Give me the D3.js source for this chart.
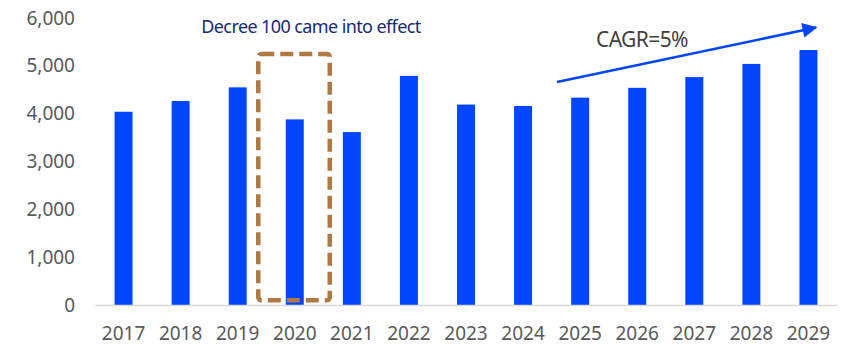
<!DOCTYPE html>
<html>
<head>
<meta charset="utf-8">
<script src="https://cdn.jsdelivr.net/npm/d3@7/dist/d3.min.js"></script>
<style>
  html, body { margin: 0; padding: 0; background: #fff; }
  svg { display: block; font-family: "Noto Sans", "Open Sans", sans-serif; }
</style>
</head>
<body>
<svg id="chart" width="851" height="348"></svg>
<script>
// Annual values, 2017–2029
const years = ["2017","2018","2019","2020","2021","2022","2023","2024","2025","2026","2027","2028","2029"];
const values = [4040, 4265, 4550, 3880, 3615, 4790, 4190, 4160, 4335, 4540, 4765, 5040, 5330];
const yTicks = [0, 1000, 2000, 3000, 4000, 5000, 6000];

const noteText = "Decree 100 came into effect";
const noteYear = "2020";
const cagrText = "CAGR=5%";

const svg = d3.select("#chart");
const blue = "#0046ff";

const x = d3.scaleBand().domain(years).range([95, 837]).paddingInner(0.685).paddingOuter(0.3425);
const y = d3.scaleLinear().domain([0, 6000]).range([305, 18]);

// y-axis labels (no line, no ticks)
const yAxis = svg.append("g").attr("transform", "translate(75,0)")
  .call(d3.axisLeft(y).tickValues(yTicks).tickSize(0).tickPadding(0).tickFormat(d3.format(",")));
yAxis.select(".domain").remove();
yAxis.selectAll("text").attr("font-size", 19).attr("fill", "#595959")
  .attr("font-family", "'Noto Sans', sans-serif");

// bars
svg.append("g").selectAll("rect").data(years).join("rect")
  .attr("x", d => x(d))
  .attr("width", x.bandwidth())
  .attr("y", (d, i) => y(values[i]))
  .attr("height", (d, i) => y(0) - y(values[i]))
  .attr("fill", blue);

// x-axis baseline and labels
const xAxis = svg.append("g").attr("transform", `translate(0,${y(0)})`)
  .call(d3.axisBottom(x).tickSize(0).tickPadding(22));
xAxis.select(".domain").attr("stroke", "#d9d9d9").attr("stroke-width", 1.6);
xAxis.selectAll("text").attr("font-size", 19).attr("fill", "#595959")
  .attr("font-family", "'Noto Sans', sans-serif");

// dashed box around the 2020 bar
const bx0 = x(noteYear) - 27.5, bx1 = x(noteYear) + x.bandwidth() + 26;
svg.append("rect")
  .attr("x", bx0).attr("y", y(5250))
  .attr("width", bx1 - bx0).attr("height", y(100) - y(5250))
  .attr("rx", 3)
  .attr("fill", "none")
  .attr("stroke", "#b07842")
  .attr("stroke-width", 4.5)
  .attr("stroke-dasharray", "13,6");

svg.append("text")
  .attr("x", 311).attr("y", 33)
  .attr("text-anchor", "middle")
  .attr("font-size", 18)
  .attr("letter-spacing", -0.6)
  .attr("fill", "#142a78")
  .text(noteText);

// CAGR trend arrow
svg.append("defs").append("marker")
  .attr("id", "head").attr("viewBox", "0 0 10 10")
  .attr("refX", 9).attr("refY", 5)
  .attr("markerWidth", 7).attr("markerHeight", 6)
  .attr("markerUnits", "strokeWidth")
  .attr("orient", "auto")
  .append("path").attr("d", "M0,0 L10,5 L0,10 Z").attr("fill", blue);

svg.append("line")
  .attr("x1", 557).attr("y1", 82)
  .attr("x2", 816).attr("y2", 27.5)
  .attr("stroke", blue).attr("stroke-width", 2.5)
  .attr("marker-end", "url(#head)");

svg.append("text")
  .attr("x", 596).attr("y", 47)
  .attr("font-size", 21)
  .attr("letter-spacing", -0.6)
  .attr("fill", "#404040")
  .text(cagrText);
</script>
</body>
</html>
